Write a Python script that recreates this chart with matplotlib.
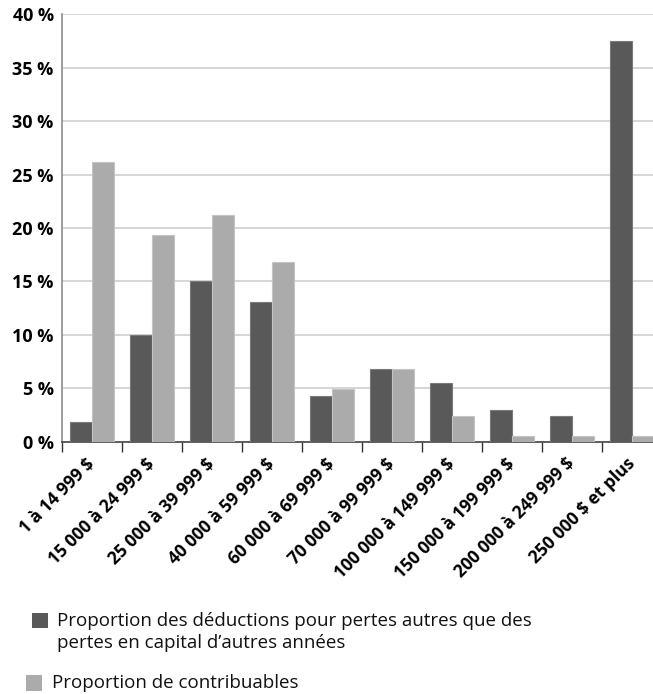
import numpy as np
from matplotlib import pyplot as plt
from matplotlib.patches import Rectangle

# tranches de revenu
categories = ['1 à 14 999 $', '15 000 à 24 999 $', '25 000 à 39 999 $',
              '40 000 à 59 999 $', '60 000 à 69 999 $', '70 000 à 99 999 $',
              '100 000 à 149 999 $', '150 000 à 199 999 $', '200 000 à 249 999 $',
              '250 000 $ et plus']
deductions = [1.8, 10.0, 15.0, 13.1, 4.3, 6.8, 5.5, 3.0, 2.4, 37.5]
contribuables = [26.2, 19.3, 21.2, 16.8, 4.9, 6.8, 2.4, 0.5, 0.5, 0.5]
yticks = [0, 5, 10, 15, 20, 25, 30, 35, 40]

legend_lines = ['Proportion des déductions pour pertes autres que des',
                'pertes en capital d\u2019autres années',
                'Proportion de contribuables']

dark = '#595959'
light = '#ababab'

plt.rcParams['font.family'] = ['Open Sans', 'DejaVu Sans']

W, H = 653, 694
fig = plt.figure(figsize=(W / 100, H / 100), dpi=100)
ax = fig.add_axes([62 / W, 1 - 441.7 / H, 600 / W, 427.4 / H])

x = np.arange(len(categories))
bw = 0.36
ax.bar(x - bw / 2, deductions, bw, color=dark, edgecolor='#7a7a7a', linewidth=0.8, zorder=3)
ax.bar(x + bw / 2, contribuables, bw, color=light, edgecolor='#c4c4c4', linewidth=0.8, zorder=3)

ax.set_xlim(-0.5, len(categories) - 0.5)
ax.set_ylim(0, 40)

ax.set_yticks(yticks)
ax.set_yticklabels(['%d %%' % v for v in yticks], fontsize=13, fontweight='bold')
ax.tick_params(axis='y', length=0, pad=6)
ax.yaxis.grid(True, color='#d0d0d0', linewidth=1.2, zorder=0)

ax.set_xticks(x)
ax.set_xticklabels(categories, rotation=45, ha='right', va='center',
                   rotation_mode='anchor', fontsize=12.5, fontweight='bold')
ax.tick_params(axis='x', which='major', length=0, pad=14)
ax.set_xticks(np.arange(len(categories) + 1) - 0.5, minor=True)
ax.tick_params(axis='x', which='minor', length=7, width=1, color='#333333')

for s in ['top', 'right']:
    ax.spines[s].set_visible(False)
ax.spines['left'].set_color('#8c8c8c')
ax.spines['left'].set_linewidth(1.2)
ax.spines['bottom'].set_color('#444444')
ax.spines['bottom'].set_linewidth(1.2)

# legende
fig.patches.append(Rectangle((32 / W, 1 - 628 / H), 16 / W, 15 / H, transform=fig.transFigure,
                             facecolor=dark, edgecolor='none'))
fig.text(57 / W, 1 - 621 / H, legend_lines[0], fontsize=13.5, va='center', ha='left', color='#111111')
fig.text(57 / W, 1 - 643 / H, legend_lines[1], fontsize=13.5, va='center', ha='left', color='#111111')
fig.patches.append(Rectangle((26 / W, 1 - 691 / H), 16 / W, 16 / H, transform=fig.transFigure,
                             facecolor=light, edgecolor='none'))
fig.text(52 / W, 1 - 683 / H, legend_lines[2], fontsize=13.5, va='center', ha='left', color='#111111')

fig.savefig('out.png', dpi=100)
